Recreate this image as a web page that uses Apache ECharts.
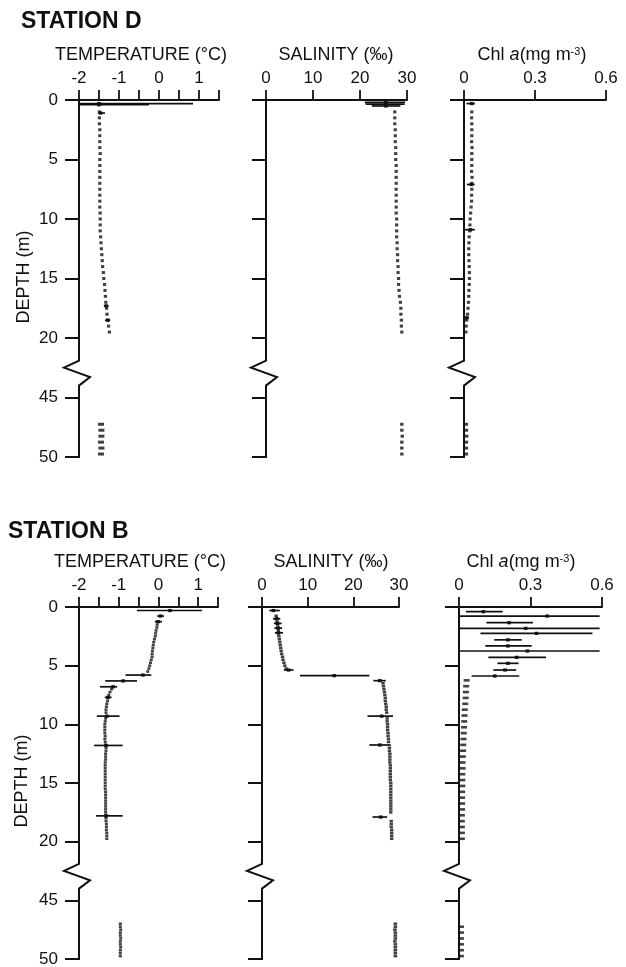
<!DOCTYPE html>
<html><head><meta charset="utf-8">
<script src="https://cdn.jsdelivr.net/npm/echarts@6/dist/echarts.min.js"></script>
<style>html,body{margin:0;padding:0;background:#fff}#c{width:626px;height:967px}</style>
</head><body><div id="c"></div>
<script>
// ---------------- DATA (real depths in m) ----------------
const depthD = [1,1.5,2,2.5,3,3.5,4,4.5,5,5.5,6,6.5,7,7.5,8,8.5,9,9.5,10,10.5,
 11,11.5,12,12.5,13,13.5,14,14.5,15,15.5,16,16.5,17,17.5,18,18.5,19,19.5];
const tempD = [-1.49,-1.49,-1.49,-1.48,-1.48,-1.48,-1.48,-1.47,-1.48,-1.48,-1.48,-1.48,-1.48,-1.48,-1.48,-1.48,-1.48,-1.47,-1.47,-1.47,
 -1.47,-1.46,-1.45,-1.44,-1.43,-1.42,-1.41,-1.39,-1.38,-1.36,-1.35,-1.34,-1.33,-1.31,-1.30,-1.28,-1.26,-1.24];
const salD = [27.4,27.4,27.4,27.5,27.5,27.5,27.6,27.6,27.6,27.7,27.7,27.7,27.7,27.7,27.7,27.7,27.7,27.7,27.8,27.8,
 27.8,27.8,27.9,27.9,28.0,28.0,28.1,28.1,28.2,28.2,28.3,28.4,28.6,28.7,28.7,28.8,28.8,28.9];
const chlD = [0.033,0.032,0.033,0.033,0.033,0.032,0.034,0.033,0.033,0.033,0.032,0.034,0.033,0.033,0.032,0.032,0.030,0.028,0.026,0.025,
 0.024,0.022,0.021,0.020,0.020,0.021,0.022,0.023,0.023,0.022,0.021,0.020,0.019,0.017,0.015,0.011,0.009,0.008];
const depthDL = [47.25,47.75,48.25,48.75,49.25,49.75];
const tempDL = [-1.45,-1.44,-1.44,-1.45,-1.44,-1.45];
const salDL = [28.9,28.9,29.0,28.9,28.9,28.9];
const chlDL = [0.007,0.007,0.008,0.007,0.007,0.007];
// error bars: [depth, low, high, mean]
const barsTempD = [[0.3,-2.0,0.85,-1.5],[0.4,-2.0,-0.25,-1.5],[1.1,-1.52,-1.35,-1.46],[17.3,-1.38,-1.26,-1.32],[18.5,-1.35,-1.22,-1.28]];
const barsSalD = [[0.2,21.0,29.6,25.5],[0.35,21.2,29.5,25.5],[0.5,22.5,28.6,25.5]];
const barsChlD = [[0.3,0.01,0.046,0.033],[7.1,0.012,0.045,0.031],[10.9,0.004,0.046,0.027],[18.3,0.006,0.02,0.012]];

const depthBT = [1.5,1.75,2,2.25,2.5,2.75,3,3.25,3.5,3.75,4,4.25,4.5,4.75,5,5.25,5.5,
 7,7.25,7.5,7.75,8,8.25,8.5,8.75,9,9.5,9.75,
 10,10.25,10.5,10.75,11,11.25,11.5,11.75,
 12,12.25,12.5,12.75,13,13.25,13.5,13.75,14,14.25,14.5,14.75,15,15.25,15.5,15.75,16,16.25,16.5,16.75,17,17.25,17.5,17.75,
 18,18.25,18.5,18.75,19,19.25,19.5,19.75];
const tempBT = [-0.03,-0.04,-0.06,-0.07,-0.08,-0.10,-0.12,-0.13,-0.14,-0.15,-0.16,-0.16,-0.18,-0.20,-0.22,-0.24,-0.27,
 -1.18,-1.22,-1.25,-1.27,-1.28,-1.30,-1.31,-1.32,-1.32,-1.33,-1.34,
 -1.35,-1.35,-1.35,-1.35,-1.34,-1.35,-1.34,-1.33,
 -1.32,-1.32,-1.33,-1.33,-1.33,-1.34,-1.34,-1.34,-1.34,-1.34,-1.34,-1.34,-1.34,-1.34,-1.34,-1.33,-1.33,-1.33,-1.33,-1.33,-1.33,-1.33,-1.33,-1.32,
 -1.32,-1.32,-1.31,-1.31,-1.31,-1.30,-1.30,-1.30];
const depthBS = [0.75,1,1.25,1.5,1.75,2,2.25,2.5,2.75,3,3.25,3.5,3.75,4,4.25,4.5,4.75,5,5.25,
 6.5,6.75,7,7.25,7.5,7.75,8,8.25,8.5,8.75,9,
 9.5,9.75,10,10.25,10.5,10.75,11,11.25,11.5,
 12,12.25,12.5,12.75,13,13.25,13.5,13.75,14,14.25,14.5,14.75,15,15.25,15.5,15.75,16,16.25,16.5,16.75,17,17.25,17.5,
 18.25,18.5,18.75,19,19.25,19.5,19.75];
const salBS = [3.1,3.2,3.3,3.4,3.5,3.6,3.6,3.7,3.8,3.9,4.0,4.1,4.2,4.3,4.5,4.6,4.8,5.0,5.3,
 26.5,26.6,26.7,26.8,26.9,27.0,27.0,27.1,27.2,27.2,27.3,
 27.4,27.4,27.5,27.5,27.5,27.6,27.6,27.7,27.7,
 27.9,27.9,28.0,28.0,28.0,28.0,28.1,28.1,28.1,28.1,28.1,28.1,28.2,28.2,28.2,28.2,28.2,28.2,28.2,28.2,28.2,28.2,28.2,
 28.3,28.3,28.3,28.4,28.4,28.4,28.4];
const depthBC = [6.25,6.75,7.25,7.75,8.25,8.75,9.25,9.75,10.25,10.75,11.25,11.75,12.25,12.75,
 13.25,13.75,14.25,14.75,15.25,15.75,16.25,16.75,17.25,17.75,18.25,18.75,19.25,19.75];
const chlBC = [0.032,0.030,0.029,0.028,0.026,0.024,0.023,0.022,0.021,0.020,0.019,0.018,0.017,0.016,
 0.015,0.015,0.014,0.014,0.014,0.013,0.013,0.013,0.013,0.012,0.012,0.012,0.012,0.012];
const depthBL = [47,47.25,47.5,47.75,48,48.25,48.5,48.75,49,49.25,49.5,49.75];
const tempBL = [-0.96,-0.96,-0.95,-0.96,-0.96,-0.95,-0.96,-0.96,-0.95,-0.96,-0.96,-0.96];
const salBL = [29.2,29.2,29.1,29.2,29.2,29.2,29.1,29.2,29.2,29.2,29.2,29.2];
const depthBCL = [47.25,47.75,48.25,48.75,49.25,49.75];
const chlBL = [0.008,0.008,0.008,0.008,0.008,0.008];
const barsTempB = [[0.3,-0.54,1.1,0.29],[0.77,-0.03,0.14,0.05],[1.25,-0.09,0.09,-0.01],[5.8,-0.83,-0.18,-0.39],
 [6.3,-1.34,-0.54,-0.89],[6.8,-1.47,-1.04,-1.14],[7.7,-1.35,-1.18,-1.27],[9.3,-1.55,-0.98,-1.30],[11.8,-1.62,-0.90,-1.32],[17.8,-1.57,-0.90,-1.32]];
const barsSalB = [[0.3,1.6,3.9,2.5],[1.0,2.4,4.0,3.2],[1.4,2.6,4.3,3.4],[1.8,2.7,4.4,3.5],[2.2,2.8,4.6,3.6],
 [5.37,4.8,6.9,5.8],[5.85,8.3,23.5,15.8],[6.28,24.4,27.1,25.8],[9.3,23.1,28.7,26.2],[11.76,23.5,28.2,25.8],[17.9,24.2,27.4,26.0]];
const barsChlB = [[0.4,0.029,0.183,0.102],[0.77,0.0,0.59,0.37],[1.34,0.115,0.31,0.21],[1.82,0.0,0.59,0.28],
 [2.25,0.09,0.56,0.325],[2.8,0.148,0.263,0.205],[3.32,0.11,0.305,0.205],[3.75,0.0,0.59,0.287],
 [4.29,0.123,0.365,0.242],[4.8,0.161,0.25,0.205],[5.37,0.144,0.24,0.193],[5.88,0.053,0.253,0.15]];

const depthTicks = [0,5,10,15,20,45,50];

// ---------------- RENDERING ----------------
const INK = '#111111';
const FONT = '"Liberation Sans", Arial, Helvetica, sans-serif';
// axis break: 20 m -> 45 m shown as 5 m of axis length
function vd(d){ return d <= 20 ? d : d - 20; }
const BRK = [21.9, 24.0];

const panels = [
 {g:[79,100,140,357], min:-2, max:1.5, iv:0.5, ylab:true},
 {g:[266,100,141,357], min:0, max:30, iv:10, ylab:false},
 {g:[464,100,142,357], min:0, max:0.6, iv:0.3, ylab:false},
 {g:[79,607,139,352], min:-2, max:1.5, iv:0.5, ylab:true},
 {g:[262,607,137,352], min:0, max:30, iv:10, ylab:false},
 {g:[459,607,143,352], min:0, max:0.6, iv:0.3, ylab:false}
];
function xfmt(v){
  if (Math.abs(v - Math.round(v)) < 1e-9) return String(Math.round(v));
  if (v > 0 && v < 1) return String(+v.toFixed(2));
  return '';
}
function tempFmt(v){ return Math.abs(v - Math.round(v)) < 1e-9 ? String(Math.round(v)) : ''; }

function dots(i, xs, ds, size){
  return {type:'scatter', xAxisIndex:i, yAxisIndex:i, symbol:'rect', symbolSize:size, silent:true,
    itemStyle:{color:INK}, data: xs.map((x,k)=>[x, vd(ds[k])]), z:3};
}
function barRender(params, api){
  const y = api.value(0);
  const a = api.coord([api.value(1), y]);
  const b = api.coord([api.value(2), y]);
  const c = api.coord([api.value(3), y]);
  return {type:'group', children:[
    {type:'line', shape:{x1:a[0], y1:a[1], x2:b[0], y2:b[1]}, style:{stroke:INK, lineWidth:1.7}},
    {type:'rect', shape:{x:c[0]-1.8, y:c[1]-1.6, width:3.6, height:3.2}, style:{fill:INK}}
  ]};
}
function bars(i, arr){
  return {type:'custom', xAxisIndex:i, yAxisIndex:i, renderItem:barRender, silent:true, clip:false,
    encode:{x:[1,2,3], y:0}, data: arr.map(b=>[vd(b[0]), b[1], b[2], b[3]]), z:4};
}
function axisSeries(i, xmin){
  return {type:'custom', xAxisIndex:i, yAxisIndex:i, silent:true, clip:false, z:5,
    encode:{x:0, y:1}, data:[[xmin, 0]],
    renderItem: function(params, api){
      const p = v => api.coord([xmin, v]);
      const t = p(0), s = p(BRK[0]), e = p(BRK[1]), bt = p(30);
      const x0 = t[0], h = e[1]-s[1];
      return {type:'polyline', shape:{points:[[x0,t[1]],[x0,s[1]],[x0-15,s[1]+h*0.28],[x0+11,s[1]+h*0.66],[x0,e[1]],[x0,bt[1]+1]]},
        style:{stroke:INK, lineWidth:2, fill:null}};
    }};
}

const DDOT = [3.2, 3];
const BDOT = [3, 2.6];
const series = [
  axisSeries(0,-2), dots(0,tempD,depthD,DDOT), dots(0,tempDL,depthDL,[6,3]), bars(0,barsTempD),
  axisSeries(1,0), dots(1,salD,depthD,DDOT), dots(1,salDL,depthDL,[3.4,3]), bars(1,barsSalD),
  axisSeries(2,0), dots(2,chlD,depthD,DDOT), dots(2,chlDL,depthDL,[5,3]), bars(2,barsChlD),
  axisSeries(3,-2), dots(3,tempBT,depthBT,BDOT), dots(3,tempBL,depthBL,BDOT), bars(3,barsTempB),
  axisSeries(4,0), dots(4,salBS,depthBS,[3.4,2.6]), dots(4,salBL,depthBL,[3.6,2.6]), bars(4,barsSalB),
  axisSeries(5,0), dots(5,chlBC,depthBC,[6,2.6]), dots(5,chlBL,depthBCL,[6,2.6]), bars(5,barsChlB)
];

function txt(x, y, text, size, extra){
  return Object.assign({type:'text', x:x, y:y, silent:true,
    style:{text:text, fontSize:size, fontFamily:FONT, fill:INK, align:'center', verticalAlign:'middle'}}, extra||{});
}
function chlTitle(x, y){
  return {type:'text', x:x, y:y, silent:true, style:{
    text:'{n|Chl }{i|a}{n|(mg m}{s|-3}{n|)}', align:'center', verticalAlign:'middle',
    rich:{ n:{fontSize:18, fontFamily:FONT, fill:INK},
           i:{fontSize:18, fontFamily:FONT, fontStyle:'italic', fill:INK},
           s:{fontSize:11, fontFamily:FONT, fill:INK, verticalAlign:'top'} }}};
}
const boldTitle = (x,y,t)=>({type:'text', x:x, y:y, silent:true,
  style:{text:t, fontSize:23, fontWeight:'bold', fontFamily:FONT, fill:INK, align:'left', verticalAlign:'middle'}});

const graphic = [
  boldTitle(21, 22, 'STATION D'),
  txt(141, 55, 'TEMPERATURE (°C)', 18),
  txt(336, 55, 'SALINITY (‰)', 18),
  chlTitle(532, 55),
  txt(24, 277, 'DEPTH (m)', 18, {rotation:Math.PI/2}),
  boldTitle(8, 532, 'STATION B'),
  txt(140, 562, 'TEMPERATURE (°C)', 18),
  txt(331, 562, 'SALINITY (‰)', 18),
  chlTitle(521, 562),
  txt(22, 781, 'DEPTH (m)', 18, {rotation:Math.PI/2})
];

const option = {
  animation:false,
  backgroundColor:'#ffffff',
  grid: panels.map(p=>({left:p.g[0], top:p.g[1], width:p.g[2], height:p.g[3], outerBoundsMode:'none', containLabel:false})),
  xAxis: panels.map((p,i)=>({gridIndex:i, type:'value', position:'top', min:p.min, max:p.max, interval:p.iv,
    axisLine:{show:true, onZero:false, lineStyle:{color:INK, width:2}},
    axisTick:{show:true, inside:false, length:10, lineStyle:{color:INK, width:1.8}},
    axisLabel:{show:true, margin:13, color:INK, fontSize:17, fontFamily:FONT, formatter: p.min < 0 ? tempFmt : xfmt, hideOverlap:false},
    splitLine:{show:false}})),
  yAxis: panels.map((p,i)=>({gridIndex:i, type:'value', inverse:true, min:0, max:30, interval:5,
    axisLine:{show:false, onZero:false},
    axisTick:{show:true, inside:false, length:14, lineStyle:{color:INK, width:2}},
    axisLabel:{show:p.ylab, margin:21, color:INK, fontSize:17, fontFamily:FONT,
      formatter: v => String(depthTicks[Math.round(v/5)])},
    splitLine:{show:false}})),
  series: series,
  graphic: graphic
};
const chart = echarts.init(document.getElementById('c'), null, {renderer:'canvas'});
chart.setOption(option);
</script>
</body></html>
